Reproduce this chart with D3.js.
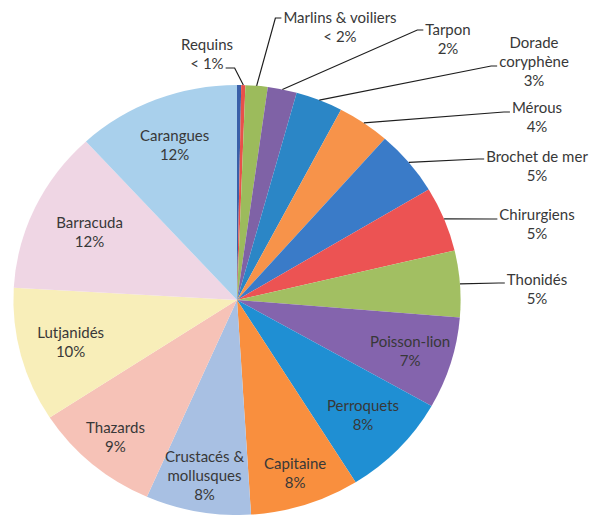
<!DOCTYPE html>
<html>
<head>
<meta charset="utf-8">
<script src="https://cdn.jsdelivr.net/npm/d3@7"></script>
<style>
  html, body { margin: 0; padding: 0; background: #fff; }
  svg { display: block; }
  text { font-family: Lato, "Open Sans", sans-serif; font-size: 15px; fill: #383838; }
</style>
</head>
<body>
<svg id="chart" width="592" height="515"></svg>
<script>
// Catch composition by group (% of total), clockwise from 12 o'clock
const categories = [
  "Autres", "Requins", "Marlins & voiliers", "Tarpon", "Dorade\ncoryphène",
  "Mérous", "Brochet de mer", "Chirurgiens", "Thonidés", "Poisson-lion",
  "Perroquets", "Capitaine", "Crustacés &\nmollusques", "Thazards",
  "Lutjanidés", "Barracuda", "Carangues"
];
const shares = [0.3, 0.3, 1.6, 2.1, 3.4, 3.8, 4.9, 4.9, 5.0, 6.9, 7.9, 7.9, 7.6, 9.2, 10.1, 12.3, 11.8];
// Shares shown as an upper bound ("< n%") instead of a rounded value
const upperBounds = [null, 1, 2, null, null, null, null, null, null, null, null, null, null, null, null, null, null];
const colors = [
  "#3a5fa8", "#e8504a", "#9cbb5c", "#7f62a6", "#2b86c6", "#f7934a",
  "#3a7bc8", "#ec5353", "#a2bf62", "#8464ad", "#1f8fd3", "#f98f3e",
  "#a8c0e3", "#f6c2b7", "#f8eeb9", "#efd6e4", "#a9d0ec"
];

// Layout
const cx = 237, cy = 300, R = 215, sx = 1.04;   // pie is slightly wider than tall
const lineH = 19;
// Outside labels with leader lines: centre x, first baseline, attach side / line / offset
const outsideLabels = {
  1: { x: 207, y: 50,  side: "right", line: 1, dy: -1 },
  2: { x: 340, y: 23,  side: "left",  line: 0, dy: -5 },
  3: { x: 448, y: 35,  side: "left",  line: 0, dy: -5 },
  4: { x: 534, y: 48,  side: "left",  line: 1, dy: -1 },
  5: { x: 537, y: 113, side: "left",  line: 0, dy: -1 },
  6: { x: 537, y: 162, side: "left",  line: 0, dy: -3 },
  7: { x: 537, y: 220, side: "left",  line: 0, dy: -1 },
  8: { x: 537, y: 285, side: "left",  line: 0, dy: -2 }
};
// Inside labels: radial position as a fraction of the radius
const insideLabels = { 9: 0.81, 10: 0.78, 11: 0.85, 12: 0.83, 13: 0.84, 14: 0.77, 15: 0.73, 16: 0.77 };

const pctText = i => upperBounds[i] != null ? `< ${upperBounds[i]}%` : `${Math.round(shares[i])}%`;

const svg = d3.select("#chart");

const pie = d3.pie().sort(null).value(d => d).startAngle(0).endAngle(2 * Math.PI);
const arcs = pie(shares);
const arc = d3.arc().innerRadius(0).outerRadius(R);

svg.append("g")
  .attr("transform", `translate(${cx},${cy}) scale(${sx},1)`)
  .selectAll("path")
  .data(arcs)
  .join("path")
  .attr("d", arc)
  .attr("fill", (d, i) => colors[i]);

const polar = (a, r) => [cx + sx * r * Math.sin(a), cy - r * Math.cos(a)];

function addLabel(i, x, y) {
  const lines = categories[i].split("\n").concat(pctText(i));
  const t = svg.append("text").attr("text-anchor", "middle");
  lines.forEach((s, k) => {
    t.append("tspan").attr("x", x).attr("y", y + k * lineH).text(s);
  });
  return t;
}

// Outside labels and leader lines
Object.entries(outsideLabels).forEach(([key, L]) => {
  const i = +key;
  const t = addLabel(i, L.x, L.y);
  const span = t.selectAll("tspan").nodes()[L.line];
  const bb = span.getBBox();
  const ay = L.y + L.line * lineH + L.dy;
  const a = (arcs[i].startAngle + arcs[i].endAngle) / 2;
  const [px, py] = polar(a, R);
  let pts;
  if (L.side === "left") {
    const ax = bb.x - 2;
    pts = [[px, py], [ax - 6, ay], [ax, ay]];
  } else {
    const ax = bb.x + bb.width + 2;
    pts = [[px, py], [ax + 9, ay], [ax, ay]];
  }
  svg.append("path")
    .attr("d", d3.line()(pts))
    .attr("fill", "none")
    .attr("stroke", "#1e1e1e")
    .attr("stroke-width", 1.2);
});

// Inside labels
Object.entries(insideLabels).forEach(([key, f]) => {
  const i = +key;
  const a = (arcs[i].startAngle + arcs[i].endAngle) / 2;
  const [x, y] = polar(a, R * f);
  const n = categories[i].split("\n").length + 1;
  addLabel(i, x, y - lineH * (n - 1) / 2 + 5);
});
</script>
</body>
</html>
